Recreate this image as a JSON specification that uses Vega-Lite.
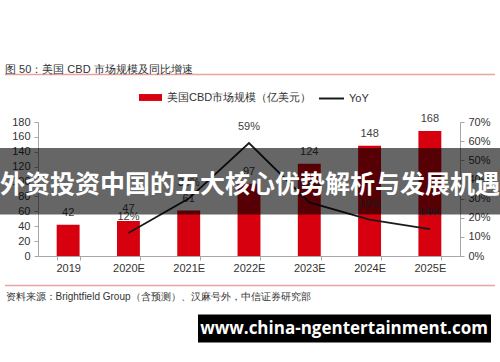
{
  "$schema": "https://vega.github.io/schema/vega-lite/v6.json",
  "width": 422,
  "height": 134,
  "autosize": {"type": "none"},
  "padding": {"left": 38, "top": 122, "right": 40, "bottom": 106},
  "background": "white",
  "config": {
    "font": "Liberation Sans",
    "view": {"stroke": null},
    "axis": {"grid": false, "domainColor": "#a6a6a6", "tickColor": "#a6a6a6", "labelColor": "#333333", "labelFontSize": 11, "tickSize": 4, "labelOverlap": false, "labelFlush": false}
  },
  "title": {
    "text": "图 50：美国 CBD 市场规模及同比增速",
    "anchor": "start",
    "frame": "group",
    "dx": -33,
    "offset": -1,
    "fontSize": 11,
    "fontWeight": "normal",
    "color": "#333333",
    "font": "Liberation Sans"
  },
  "data": {
    "values": [
      {"year": "2019", "size": 42, "yoy": null},
      {"year": "2020E", "size": 47, "yoy": 0.12},
      {"year": "2021E", "size": 61, "yoy": 0.30},
      {"year": "2022E", "size": 97, "yoy": 0.59},
      {"year": "2023E", "size": 124, "yoy": 0.28},
      {"year": "2024E", "size": 148, "yoy": 0.19},
      {"year": "2025E", "size": 168, "yoy": 0.14}
    ]
  },
  "layer": [
    {
      "layer": [
        {
          "mark": {"type": "bar"},
          "encoding": {
            "x": {
              "field": "year", "type": "ordinal", "sort": null,
              "scale": {"paddingInner": 0.62, "paddingOuter": 0.31},
              "axis": {
                "title": "资料来源：Brightfield Group（含预测）、汉麻号外，中信证券研究部",
                "titleX": -33, "titleY": 40, "titleAnchor": null, "titleAlign": "left", "titleBaseline": "middle",
                "titleFontSize": 10, "titleFontWeight": "normal", "titleColor": "#333333",
                "labelAngle": 0, "labelPadding": 2, "tickBand": "extent"
              }
            },
            "y": {
              "field": "size", "type": "quantitative",
              "scale": {"domain": [0, 180], "nice": false},
              "axis": {"title": null, "values": [0, 20, 40, 60, 80, 100, 120, 140, 160, 180], "tickCount": 10, "labelPadding": 4, "labelOverlap": false, "labelFlush": false, "labelBound": false}
            },
            "fill": {
              "datum": "美国CBD市场规模（亿美元）",
              "scale": {"range": ["#d7000f"]},
              "legend": {
                "orient": "none", "legendX": 101, "legendY": -36, "title": null,
                "symbolType": "M-1,-0.3H1V0.3H-1Z", "symbolSize": 529, "symbolStrokeWidth": 0,
                "labelFontSize": 11, "labelColor": "#333333", "labelLimit": 300, "labelOffset": 5, "padding": 0
              }
            }
          }
        },
        {
          "mark": {"type": "text", "baseline": "middle", "dy": -12, "fontSize": 11, "color": "#404040"},
          "encoding": {
            "x": {"field": "year", "type": "ordinal", "sort": null},
            "y": {"field": "size", "type": "quantitative", "axis": {"title": null, "values": [0, 20, 40, 60, 80, 100, 120, 140, 160, 180], "tickCount": 10, "labelPadding": 4, "labelOverlap": false, "labelFlush": false, "labelBound": false}},
            "text": {"field": "size", "type": "quantitative"}
          }
        }
      ]
    },
    {
      "layer": [
        {
          "mark": {"type": "line", "strokeWidth": 1.8},
          "encoding": {
            "x": {"field": "year", "type": "ordinal", "sort": null},
            "y": {
              "field": "yoy", "type": "quantitative",
              "scale": {"domain": [0, 0.7], "nice": false},
              "axis": {"title": null, "orient": "right", "format": ".0%", "values": [0, 0.1, 0.2, 0.3, 0.4, 0.5, 0.6, 0.7], "tickCount": 8, "labelPadding": 4, "labelOverlap": false, "labelFlush": false, "labelBound": false}
            },
            "stroke": {
              "datum": "YoY",
              "scale": {"range": ["#1a1a1a"]},
              "legend": {
                "orient": "none", "legendX": 280, "legendY": -37, "title": null,
                "symbolType": "stroke", "symbolSize": 625, "symbolStrokeWidth": 2,
                "labelFontSize": 11, "labelColor": "#333333", "labelOffset": 4, "padding": 0
              }
            }
          }
        },
        {
          "mark": {"type": "text", "baseline": "middle", "dy": -16, "fontSize": 11, "color": "#404040"},
          "encoding": {
            "x": {"field": "year", "type": "ordinal", "sort": null},
            "y": {"field": "yoy", "type": "quantitative", "axis": {"title": null, "orient": "right", "format": ".0%", "values": [0, 0.1, 0.2, 0.3, 0.4, 0.5, 0.6, 0.7], "tickCount": 8, "labelPadding": 4, "labelOverlap": false, "labelFlush": false, "labelBound": false}},
            "text": {"field": "yoy", "type": "quantitative", "format": ".0%"}
          }
        }
      ]
    },
    {
      "data": {"values": [{"banner": "外资投资中国的五大核心优势解析与发展机遇", "site": "www.china-ngentertainment.com"}]},
      "layer": [
        {
          "mark": {"type": "rule", "color": "#e8a3a3", "strokeWidth": 1.5},
          "encoding": {"x": {"value": -33}, "x2": {"value": 457}, "y": {"value": -47.5}}
        },
        {
          "mark": {"type": "rule", "color": "#e8a3a3", "strokeWidth": 1.5},
          "encoding": {"x": {"value": -33}, "x2": {"value": 457}, "y": {"value": 163.5}}
        },
        {
          "mark": {"type": "rect", "color": "#000000", "opacity": 0.6},
          "encoding": {"x": {"value": -38}, "x2": {"value": 462}, "y": {"value": 26}, "y2": {"value": 92.5}}
        },
        {
          "mark": {"type": "text", "align": "center", "baseline": "middle", "font": "Noto Sans CJK SC", "fontWeight": "bold", "fontSize": 25, "color": "#ffffff"},
          "encoding": {"x": {"value": 212}, "y": {"value": 62.5}, "text": {"field": "banner"}}
        },
        {
          "mark": {"type": "rect", "color": "#000000"},
          "encoding": {"x": {"value": 160}, "x2": {"value": 453}, "y": {"value": 192.5}, "y2": {"value": 220.5}}
        },
        {
          "mark": {"type": "text", "align": "center", "baseline": "middle", "font": "Open Sans", "fontWeight": "bold", "fontSize": 17, "color": "#ffffff"},
          "encoding": {"x": {"value": 306}, "y": {"value": 206.5}, "text": {"field": "site"}}
        }
      ]
    }
  ],
  "resolve": {"scale": {"y": "independent"}}
}
